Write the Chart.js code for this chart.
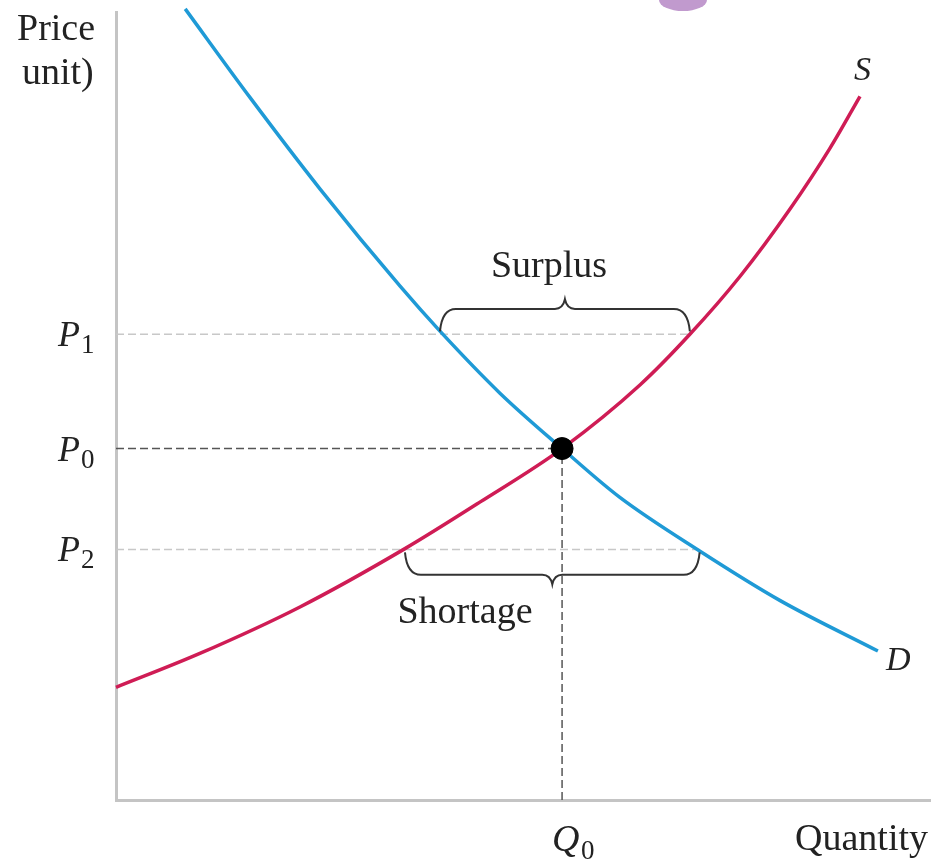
<!DOCTYPE html>
<html>
<head>
<meta charset="utf-8">
<script src="https://cdn.jsdelivr.net/npm/chart.js@4/dist/chart.umd.min.js"></script>
<style>
  html, body { margin: 0; padding: 0; background: #fff; }
  #wrap { width: 942px; height: 865px; }
</style>
</head>
<body>
<div id="wrap"><canvas id="mkt"></canvas></div>
<script>
// quantity / price points
const supplyQ = [0, 1.03, 2.26, 3.55, 4.47, 5.48, 6.44, 7.05, 7.67, 8.28, 8.77, 9.14];
const supplyP = [1.43, 1.86, 2.45, 3.19, 3.78, 4.46, 5.27, 5.91, 6.65, 7.50, 8.27, 8.93];
const demandQ = [0.85, 1.65, 2.51, 3.49, 3.98, 4.72, 5.48, 6.19, 7.17, 8.16, 9.36];
const demandP = [10.04, 8.91, 7.75, 6.52, 5.95, 5.16, 4.46, 3.84, 3.16, 2.53, 1.89];

const Q0 = 5.48;
const priceLevels = [5.91, 4.46, 3.18]; // P1, P0, P2
const priceNames = ["1", "0", "2"];
const surplusRange = [3.98, 7.05];  // demand .. supply at P1
const shortageRange = [3.55, 7.17]; // supply .. demand at P2

const BLUE = "#1f9ad6";
const RED = "#cf1c55";

function pts(xs, ys) {
  return xs.map((x, i) => ({ x: x, y: ys[i] }));
}

function drawBrace(ctx, x1, x2, y, depth, up) {
  // curly brace between x1 and x2, ends at y, tip pointing up or down
  const s = up ? -1 : 1;
  const mid = (x1 + x2) / 2;
  const yb = y + s * depth * 0.7;
  const yt = y + s * depth;
  const r = 16;
  ctx.beginPath();
  ctx.moveTo(x1, y);
  ctx.quadraticCurveTo(x1 + 2, yb, x1 + r, yb);
  ctx.lineTo(mid - 10, yb);
  ctx.quadraticCurveTo(mid - 2, yb, mid, yt);
  ctx.quadraticCurveTo(mid + 2, yb, mid + 10, yb);
  ctx.lineTo(x2 - r, yb);
  ctx.quadraticCurveTo(x2 - 2, yb, x2, y);
  ctx.stroke();
}

const labelPlugin = {
  id: "labels",
  afterDatasetsDraw(chart) {
    const ctx = chart.ctx;
    const xs = chart.scales.x;
    const ys = chart.scales.y;
    ctx.save();

    // little purple smudge at the top edge
    ctx.fillStyle = "rgba(160, 100, 180, 0.65)";
    ctx.beginPath();
    ctx.ellipse(683, 0, 24, 11, 0, 0, Math.PI);
    ctx.fill();

    ctx.fillStyle = "#222";
    ctx.textBaseline = "alphabetic";
    ctx.font = "38px 'Liberation Serif', serif";
    ctx.textAlign = "left";
    ctx.fillText("Price", 17, 40);
    ctx.fillText("unit)", 22, 84);
    ctx.textAlign = "right";
    ctx.fillText("Quantity", 928, 850);

    // braces
    ctx.strokeStyle = "#333";
    ctx.lineWidth = 2;
    const y1 = ys.getPixelForValue(priceLevels[0]) - 3;
    drawBrace(ctx, xs.getPixelForValue(surplusRange[0]), xs.getPixelForValue(surplusRange[1]), y1, 32, true);
    const y2 = ys.getPixelForValue(priceLevels[2]) + 3;
    drawBrace(ctx, xs.getPixelForValue(shortageRange[0]), xs.getPixelForValue(shortageRange[1]), y2, 32, false);

    ctx.textAlign = "center";
    ctx.font = "38px 'Liberation Serif', serif";
    ctx.fillText("Surplus", 549, 277);
    ctx.fillText("Shortage", 465, 623);

    // P labels
    priceLevels.forEach((p, i) => {
      const y = ys.getPixelForValue(p);
      ctx.textAlign = "left";
      ctx.font = "italic 36px 'Liberation Serif', serif";
      ctx.fillText("P", 58, y + 12);
      ctx.font = "27px 'Liberation Serif', serif";
      ctx.fillText(priceNames[i], 81, y + 19);
    });

    // Q0
    const qx = xs.getPixelForValue(Q0);
    ctx.textAlign = "left";
    ctx.font = "italic 38px 'Liberation Serif', serif";
    ctx.fillText("Q", qx - 10, 851);
    ctx.font = "27px 'Liberation Serif', serif";
    ctx.fillText("0", qx + 19, 859);

    // curve names
    ctx.font = "italic 34px 'Liberation Serif', serif";
    ctx.fillText("S", 854, 80);
    ctx.fillText("D", 886, 670);

    ctx.restore();
  }
};

const dashSets = [
  {
    data: [{ x: 0, y: priceLevels[0] }, { x: surplusRange[1], y: priceLevels[0] }],
    borderColor: "#c8c8c8", borderDash: [8, 4], borderWidth: 1.5
  },
  {
    data: [{ x: 0, y: priceLevels[2] }, { x: shortageRange[1], y: priceLevels[2] }],
    borderColor: "#c8c8c8", borderDash: [8, 4], borderWidth: 1.5
  },
  {
    data: [{ x: 0, y: priceLevels[1] }, { x: Q0, y: priceLevels[1] }],
    borderColor: "#555", borderDash: [8, 4], borderWidth: 1.5
  },
  {
    data: [{ x: Q0, y: 0 }, { x: Q0, y: priceLevels[1] }],
    borderColor: "#555", borderDash: [8, 4], borderWidth: 1.5
  }
];

new Chart(document.getElementById("mkt"), {
  type: "line",
  data: {
    datasets: [
      {
        label: "eq",
        data: [{ x: Q0, y: priceLevels[1] }],
        showLine: false,
        pointRadius: 11,
        pointBackgroundColor: "#000",
        pointBorderColor: "#000"
      },
      {
        label: "D",
        data: pts(demandQ, demandP),
        borderColor: BLUE,
        borderWidth: 3.5,
        pointRadius: 0,
        cubicInterpolationMode: "monotone",
        clip: false
      },
      {
        label: "S",
        data: pts(supplyQ, supplyP),
        borderColor: RED,
        borderWidth: 3.5,
        pointRadius: 0,
        cubicInterpolationMode: "monotone",
        clip: false
      },
      ...dashSets.map((d) => Object.assign({ pointRadius: 0, fill: false }, d))
    ]
  },
  options: {
    responsive: true,
    maintainAspectRatio: false,
    animation: false,
    layout: { padding: { left: 108, right: 12, top: 6, bottom: 57 } },
    plugins: {
      legend: { display: false },
      tooltip: { enabled: false }
    },
    scales: {
      x: {
        type: "linear",
        min: 0,
        max: 10,
        grid: { display: false },
        ticks: { display: false },
        border: { display: true, color: "#c4c4c4", width: 3 }
      },
      y: {
        type: "linear",
        min: 0,
        max: 10,
        grid: { display: false },
        ticks: { display: false },
        border: { display: true, color: "#c4c4c4", width: 3 }
      }
    }
  },
  plugins: [labelPlugin]
});
</script>
</body>
</html>
